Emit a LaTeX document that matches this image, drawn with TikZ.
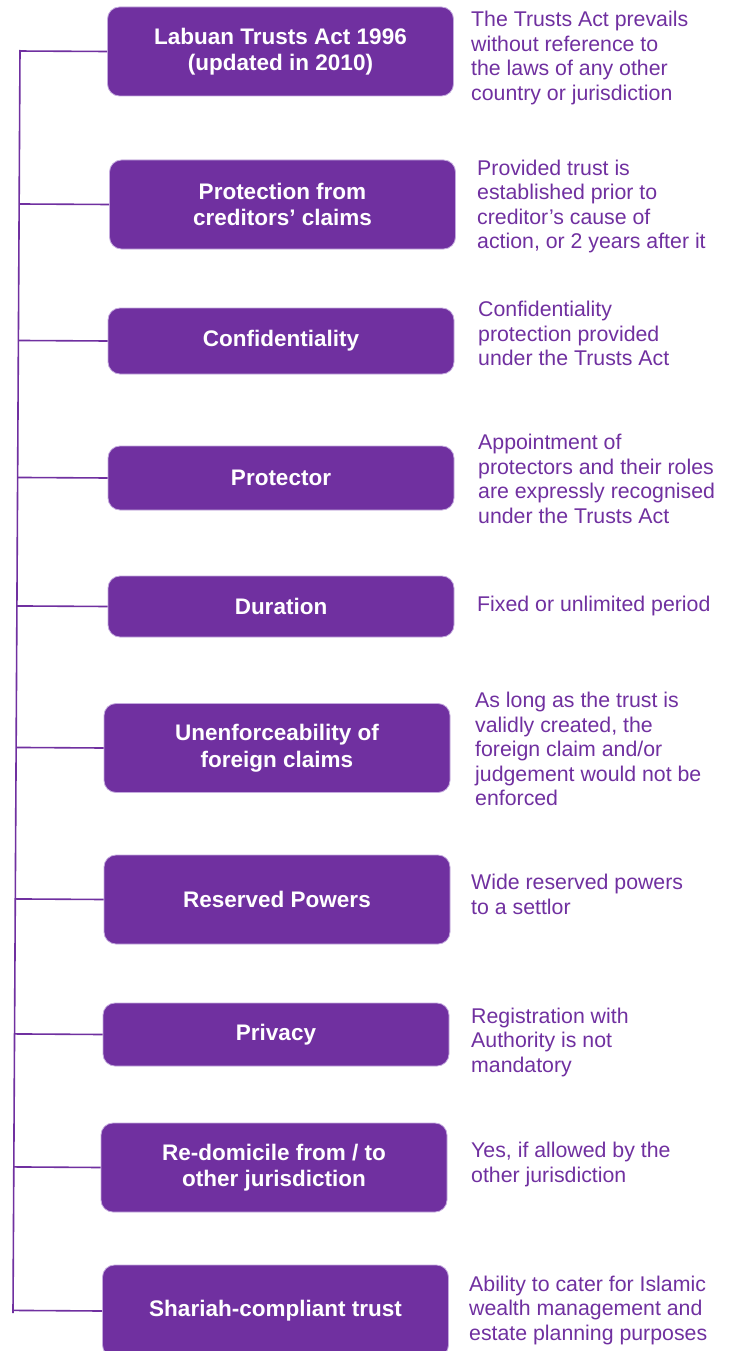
\documentclass[tikz,border=0pt]{standalone}
\usepackage{fontspec}
\setmainfont{Liberation Sans}
\usepackage{tikz}
\usetikzlibrary{calc}
\definecolor{trustpurple}{RGB}{112,48,160}
\definecolor{edgelilac}{RGB}{196,170,222}
\tikzset{
    topic/.style={rectangle, rounded corners=12pt, minimum width=346pt, minimum height=89pt, inner sep=0pt, align=center, draw=edgelilac, line width=0.8pt, fill=trustpurple, text=white, font=\fontsize{22.5}{26.5}\selectfont\bfseries},
    note/.style={anchor=west, align=left, inner sep=0pt, text=trustpurple, font=\fontsize{21.3}{24.5}\selectfont},
    branch/.style={line width=1.6pt, draw=trustpurple}
}

\begin{document}
\begin{tikzpicture}[x=1pt, y=-1pt]
    \useasboundingbox[fill=white] (0,0) rectangle (729,1351);

    % Topic boxes
    \node (act) [topic] at (280.5,51.5) {Labuan Trusts Act 1996\\(updated in 2010)};
    \node (creditors) [topic] at (282.5,204.5) {Protection from\\creditors’ claims};
    \node (confid) [topic, minimum height=66pt] at (281,341) {Confidentiality};
    \node (protector) [topic, minimum height=64pt] at (281,478) {Protector};
    \node (duration) [topic, minimum height=61pt] at (281,606.5) {Duration};
    \node (foreign) [topic] at (277,748) {Unenforceability of\\foreign claims};
    \node (powers) [topic] at (277,899.5) {Reserved Powers};
    \node (privacy) [topic, minimum height=63pt] at (276,1034.5) {Privacy};
    \node (redom) [topic] at (274,1167.5) {Re-domicile from / to\\other jurisdiction};
    \node (shariah) [topic, minimum height=92pt] at (275.5,1311) {Shariah-compliant trust};

    % Notes
    \node (actnote) [note] at (471,58) {The Trusts Act prevails\\without reference to\\the laws of any other\\country or jurisdiction};
    \node (crednote) [note] at (477,206.5) {Provided trust is\\established prior to\\creditor’s cause of\\action, or 2 years after it};
    \node (confnote) [note] at (478,333.5) {Confidentiality\\protection provided\\under the Trusts Act};
    \node (protnote) [note] at (478,479) {Appointment of\\protectors and their roles\\are expressly recognised\\under the Trusts Act};
    \node (durnote) [note] at (477,605.5) {Fixed or unlimited period};
    \node (fornote) [note] at (475,749) {As long as the trust is\\validly created, the\\foreign claim and/or\\judgement would not be\\enforced};
    \node (pownote) [note] at (471,894.5) {Wide reserved powers\\to a settlor};
    \node (privnote) [note] at (471,1042) {Registration with\\Authority is not\\mandatory};
    \node (rednote) [note] at (471,1164.5) {Yes, if allowed by the\\other jurisdiction};
    \node (sharnote) [note] at (469,1310) {Ability to cater for Islamic\\wealth management and\\estate planning purposes};

    % Spine and branches
    \coordinate (spinetop) at (20,50);
    \coordinate (spinebot) at (13,1313);
    \draw [branch] (spinetop) -- (spinebot);
    \foreach \t in {act, creditors, confid, protector, duration, foreign, powers, privacy, redom, shariah}
        \draw [branch] ($(spinetop)!(\t.west)!(spinebot)$) -- (\t.west);
\end{tikzpicture}
\end{document}
